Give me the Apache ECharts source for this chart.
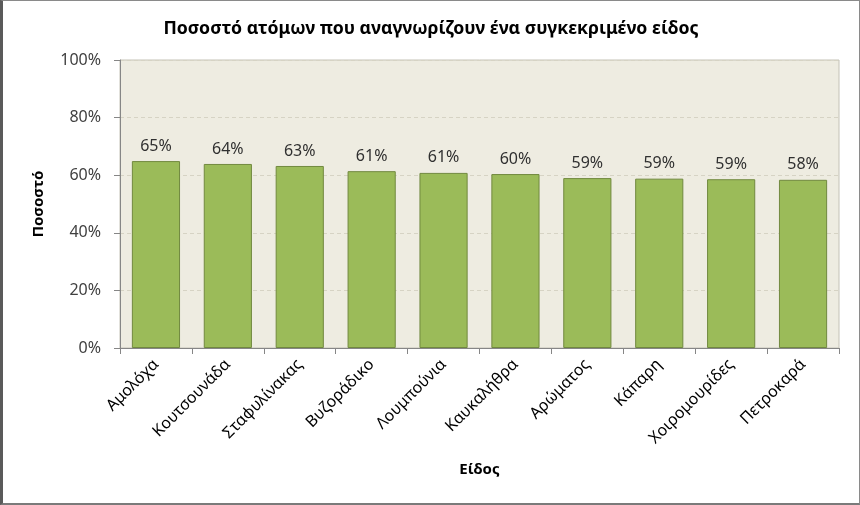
<!DOCTYPE html>
<html>
<head>
<meta charset="utf-8">
<script src="https://cdn.jsdelivr.net/npm/echarts@6/dist/echarts.min.js"></script>
<style>
  html, body { margin: 0; padding: 0; background: #fff; }
  #chart { width: 860px; height: 505px; box-sizing: border-box; border: 1px solid #8a8a8a; border-left: 3px solid #5a5a5a; border-bottom: 2px solid #7a7a7a; }
</style>
</head>
<body>
<div id="chart"></div>
<script>
const TITLE = "Ποσοστό ατόμων που αναγνωρίζουν ένα συγκεκριμένο είδος";
const CATEGORIES = ["Αμολόχα", "Κουτσουνάδα", "Σταφυλίνακας", "Βυζοράδικο", "Λουμπούνια",
  "Καυκαλήθρα", "Αρώματος", "Κάπαρη", "Χοιρομουρίδες", "Πετροκαρά"];
const VALUES = [64.9, 63.9, 63.2, 61.4, 60.8, 60.4, 59.0, 58.8, 58.6, 58.4];
const Y_TICKS = [0, 20, 40, 60, 80, 100];

const FONT = "'Noto Sans', sans-serif";
const chart = echarts.init(document.getElementById("chart"));

chart.setOption({
  animation: false,
  title: {
    text: TITLE,
    left: "center",
    top: 14,
    textStyle: { fontFamily: FONT, fontSize: 17.7, fontWeight: "bold", color: "#000" }
  },
  grid: {
    left: 117, right: 20, top: 59, bottom: 155,
    show: true,
    backgroundColor: "#eeece1",
    borderColor: "#c4c2b6",
    borderWidth: 1
  },
  xAxis: {
    type: "category",
    data: CATEGORIES,
    name: "Είδος",
    nameLocation: "middle",
    nameGap: 114,
    nameTextStyle: { fontFamily: FONT, fontSize: 15, fontWeight: "bold", color: "#000" },
    axisLine: { lineStyle: { color: "#868686" } },
    axisTick: { show: true, length: 6, alignWithLabel: false, lineStyle: { color: "#868686" } },
    axisLabel: { rotate: 45, margin: 14, fontFamily: FONT, fontSize: 16, color: "#000", interval: 0 }
  },
  yAxis: {
    type: "value",
    min: 0,
    max: 100,
    interval: 20,
    name: "Ποσοστό",
    nameLocation: "middle",
    nameGap: 74,
    nameTextStyle: { fontFamily: FONT, fontSize: 15, fontWeight: "bold", color: "#000" },
    axisLine: { show: true, lineStyle: { color: "#868686" } },
    axisTick: { show: true, length: 6, lineStyle: { color: "#868686" } },
    axisLabel: {
      margin: 19,
      fontFamily: FONT, fontSize: 16, color: "#404040",
      formatter: (v) => Y_TICKS.includes(v) ? v + "%" : ""
    },
    splitLine: { lineStyle: { color: "#d6d3c4", type: [4, 3] } }
  },
  series: [{
    type: "bar",
    data: VALUES,
    barWidth: "67%",
    itemStyle: { color: "#9bbb59", borderColor: "#71893f", borderWidth: 1 },
    label: {
      show: true,
      position: "top",
      distance: 7,
      fontFamily: FONT,
      fontSize: 16,
      color: "#303030",
      formatter: ({ value }) => Math.round(value) + "%"
    }
  }]
});
</script>
</body>
</html>
